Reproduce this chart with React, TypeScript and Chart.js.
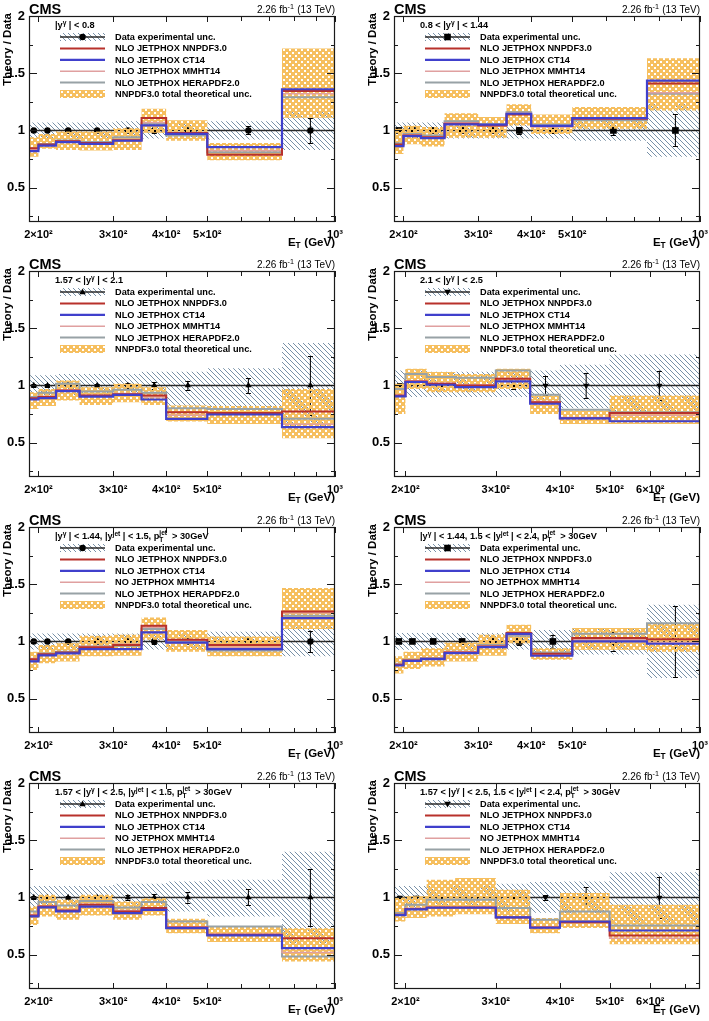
import React, { useEffect, useRef } from 'react';
import { Chart, registerables } from 'chart.js';

Chart.register(...registerables);

// ---------------- axes / binning ----------------
const EDGES_FULL = [190, 200, 220, 250, 300, 350, 400, 500, 750, 1000];
const EDGES_FWD = [190, 200, 220, 250, 300, 350, 400, 500, 750];
const CENTERS_FULL = [195, 210, 235, 275, 325, 375, 450, 625, 875];
const CENTERS_FWD = [195, 210, 235, 275, 325, 375, 450, 625];
const XTICKS_FULL = [200, 300, 400, 500, 1000];
const XLABELS_FULL = ['2×10²', '3×10²', '4×10²', '5×10²', '10³'];
const XMINOR_FULL = [600, 700, 800, 900];
const XTICKS_FWD = [200, 300, 400, 500, 600];
const XLABELS_FWD = ['2×10²', '3×10²', '4×10²', '5×10²', '6×10²'];
const XMINOR_FWD = [700];
const YTICKS = [0.5, 1, 1.5, 2];
const YMINOR = [0.25, 0.75, 1.25, 1.75];
const Y_MIN = 0.2;
const Y_MAX = 2;
const DATA_RATIO = 1;

// ---------------- texts ----------------
const HEADERS = [
  '|y^{γ}| < 0.8',
  '0.8 < |y^{γ}| < 1.44',
  '1.57 < |y^{γ}| < 2.1',
  '2.1 < |y^{γ}| < 2.5',
  '|y^{γ}| < 1.44, |y^{jet}| < 1.5, p_{T}^{jet} > 30GeV',
  '|y^{γ}| < 1.44, 1.5 < |y^{jet}| < 2.4, p_{T}^{jet} > 30GeV',
  '1.57 < |y^{γ}| < 2.5, |y^{jet}| < 1.5, p_{T}^{jet} > 30GeV',
  '1.57 < |y^{γ}| < 2.5, 1.5 < |y^{jet}| < 2.4, p_{T}^{jet} > 30GeV',
];
const LEGEND_INCL = ['Data experimental unc.', 'NLO JETPHOX NNPDF3.0', 'NLO JETPHOX CT14', 'NLO JETPHOX MMHT14', 'NLO JETPHOX HERAPDF2.0', 'NNPDF3.0 total theoretical unc.'];
const LEGEND_JET = ['Data experimental unc.', 'NLO JETPHOX NNPDF3.0', 'NLO JETPHOX CT14', 'NO JETPHOX MMHT14', 'NLO JETPHOX HERAPDF2.0', 'NNPDF3.0 total theoretical unc.'];
const LUMI = '2.26 fb^{-1} (13 TeV)';
const EXP_NAME = 'CMS';
const Y_TITLE = 'Theory / Data';
const X_TITLE = 'E_{T} (GeV)';

// ---------------- panel 1 : |y| < 0.8 ----------------
const P1_NNPDF = [0.845, 0.877, 0.906, 0.89, 0.915, 1.108, 0.977, 0.787, 1.345];
const P1_CT14 = [0.82, 0.868, 0.898, 0.883, 0.91, 1.044, 0.97, 0.854, 1.36];
const P1_MMHT = [0.835, 0.872, 0.903, 0.888, 0.92, 1.07, 0.975, 0.825, 1.32];
const P1_HERA = [0.84, 0.882, 0.912, 0.9, 0.94, 1.06, 0.956, 0.81, 1.29];
const P1_UNC_LO = [0.77, 0.84, 0.83, 0.825, 0.83, 0.98, 0.91, 0.74, 1.11];
const P1_UNC_HI = [0.94, 0.97, 0.99, 0.99, 1.02, 1.19, 1.088, 0.89, 1.716];
const P1_EXP_LO = [0.93, 0.93, 0.93, 0.93, 0.92, 0.93, 0.94, 0.92, 0.83];
const P1_EXP_HI = [1.07, 1.07, 1.07, 1.07, 1.08, 1.07, 1.06, 1.08, 1.17];
const P1_ERR = [0.01, 0.01, 0.01, 0.01, 0.015, 0.02, 0.02, 0.035, 0.11];

// ---------------- panel 2 : 0.8 < |y| < 1.44 ----------------
const P2_NNPDF = [0.877, 0.956, 0.94, 1.058, 1.044, 1.14, 1.038, 1.102, 1.41];
const P2_CT14 = [0.863, 0.95, 0.933, 1.053, 1.05, 1.146, 1.04, 1.108, 1.435];
const P2_MMHT = [0.87, 0.96, 0.945, 1.068, 1.04, 1.15, 1.03, 1.1, 1.33];
const P2_HERA = [0.889, 0.97, 0.955, 1.08, 1.055, 1.16, 1.05, 1.09, 1.32];
const P2_UNC_LO = [0.795, 0.88, 0.86, 0.936, 0.936, 1.044, 0.97, 1.015, 1.175];
const P2_UNC_HI = [1.015, 1.04, 1.03, 1.15, 1.117, 1.228, 1.14, 1.205, 1.63];
const P2_EXP_LO = [0.93, 0.93, 0.93, 0.93, 0.93, 0.93, 0.93, 0.91, 0.77];
const P2_EXP_HI = [1.07, 1.07, 1.07, 1.07, 1.07, 1.07, 1.07, 1.09, 1.23];
const P2_ERR = [0.015, 0.01, 0.01, 0.01, 0.015, 0.03, 0.02, 0.04, 0.14];

// ---------------- panel 3 : 1.57 < |y| < 2.1 ----------------
const P3_NNPDF = [0.889, 0.898, 0.956, 0.912, 0.924, 0.912, 0.766, 0.76, 0.772];
const P3_CT14 = [0.877, 0.889, 0.95, 0.903, 0.918, 0.877, 0.708, 0.746, 0.635];
const P3_MMHT = [0.885, 0.905, 0.96, 0.915, 0.93, 0.9, 0.74, 0.75, 0.66];
const P3_HERA = [0.898, 0.936, 1.015, 0.947, 0.962, 0.936, 0.8, 0.795, 0.708];
const P3_UNC_LO = [0.795, 0.82, 0.868, 0.83, 0.854, 0.83, 0.684, 0.664, 0.538];
const P3_UNC_HI = [0.94, 0.97, 1.044, 0.985, 1.015, 0.985, 0.825, 0.82, 0.97];
const P3_EXP_LO = [0.91, 0.91, 0.9, 0.9, 0.9, 0.88, 0.82, 0.81, 0.63];
const P3_EXP_HI = [1.09, 1.09, 1.1, 1.1, 1.1, 1.12, 1.12, 1.15, 1.37];
const P3_ERR = [0.01, 0.01, 0.01, 0.01, 0.02, 0.03, 0.04, 0.065, 0.255];

// ---------------- panel 4 : 2.1 < |y| < 2.5 ----------------
const P4_NNPDF = [0.912, 1.035, 1.015, 1.0, 1.058, 0.854, 0.713, 0.76];
const P4_CT14 = [0.905, 1.03, 1.006, 0.985, 1.035, 0.84, 0.713, 0.687];
const P4_MMHT = [0.915, 1.04, 1.02, 1.005, 1.06, 0.86, 0.72, 0.74];
const P4_HERA = [0.97, 1.1, 1.073, 1.067, 1.13, 0.918, 0.787, 0.765];
const P4_UNC_LO = [0.75, 0.97, 0.94, 0.94, 0.97, 0.75, 0.664, 0.664];
const P4_UNC_HI = [1.015, 1.146, 1.117, 1.1, 1.146, 0.912, 0.78, 0.912];
const P4_EXP_LO = [0.9, 0.9, 0.9, 0.9, 0.9, 0.88, 0.8, 0.73];
const P4_EXP_HI = [1.13, 1.13, 1.12, 1.12, 1.12, 1.13, 1.18, 1.27];
const P4_ERR = [0.02, 0.015, 0.01, 0.01, 0.03, 0.085, 0.11, 0.13];

// ---------------- panel 5 : |y|<1.44, |yjet|<1.5 ----------------
const P5_NNPDF = [0.845, 0.889, 0.904, 0.95, 0.97, 1.137, 1.015, 0.97, 1.262];
const P5_CT14 = [0.825, 0.878, 0.895, 0.933, 0.933, 1.079, 0.99, 0.933, 1.204];
const P5_MMHT = [0.85, 0.885, 0.9, 0.955, 0.975, 1.125, 1.01, 0.95, 1.25];
const P5_HERA = [0.835, 0.895, 0.91, 0.956, 0.962, 1.108, 1.0, 0.92, 1.224];
const P5_UNC_LO = [0.75, 0.81, 0.825, 0.87, 0.875, 1.015, 0.91, 0.87, 1.108];
const P5_UNC_HI = [0.91, 0.97, 0.985, 1.05, 1.058, 1.21, 1.1, 1.044, 1.466];
const P5_EXP_LO = [0.93, 0.93, 0.93, 0.93, 0.93, 0.93, 0.93, 0.915, 0.87];
const P5_EXP_HI = [1.07, 1.07, 1.07, 1.07, 1.07, 1.07, 1.07, 1.085, 1.13];
const P5_ERR = [0.01, 0.01, 0.01, 0.01, 0.015, 0.02, 0.01, 0.02, 0.095];

// ---------------- panel 6 : |y|<1.44, 1.5<|yjet|<2.4 ----------------
const P6_NNPDF = [0.796, 0.834, 0.848, 0.904, 0.956, 1.073, 0.892, 1.03, 1.02];
const P6_CT14 = [0.79, 0.83, 0.845, 0.898, 0.95, 1.067, 0.875, 1.0, 0.98];
const P6_MMHT = [0.8, 0.838, 0.852, 0.91, 0.96, 1.06, 0.885, 1.015, 0.99];
const P6_HERA = [0.805, 0.84, 0.855, 0.91, 0.97, 1.05, 0.904, 1.067, 1.16];
const P6_UNC_LO = [0.72, 0.76, 0.78, 0.825, 0.875, 0.985, 0.84, 0.927, 0.91];
const P6_UNC_HI = [0.87, 0.91, 0.94, 0.99, 1.058, 1.146, 0.94, 1.117, 1.16];
const P6_EXP_LO = [0.927, 0.927, 0.927, 0.927, 0.927, 0.93, 0.9, 0.885, 0.68];
const P6_EXP_HI = [1.073, 1.073, 1.073, 1.073, 1.073, 1.07, 1.1, 1.115, 1.32];
const P6_ERR = [0.015, 0.01, 0.01, 0.01, 0.02, 0.03, 0.06, 0.08, 0.31];

// ---------------- panel 7 : 1.57<|y|<2.5, |yjet|<1.5 ----------------
const P7_NNPDF = [0.843, 0.92, 0.886, 0.936, 0.878, 0.907, 0.738, 0.673, 0.644];
const P7_CT14 = [0.835, 0.913, 0.878, 0.92, 0.863, 0.892, 0.732, 0.668, 0.557];
const P7_MMHT = [0.85, 0.925, 0.89, 0.94, 0.885, 0.91, 0.745, 0.68, 0.52];
const P7_HERA = [0.878, 0.96, 0.93, 0.97, 0.913, 0.96, 0.79, 0.746, 0.484];
const P7_UNC_LO = [0.76, 0.834, 0.805, 0.843, 0.805, 0.843, 0.688, 0.61, 0.44];
const P7_UNC_HI = [0.92, 1.023, 0.98, 1.023, 0.965, 0.994, 0.813, 0.746, 0.73];
const P7_EXP_LO = [0.9, 0.9, 0.9, 0.9, 0.88, 0.88, 0.877, 0.834, 0.6];
const P7_EXP_HI = [1.1, 1.1, 1.1, 1.1, 1.12, 1.12, 1.14, 1.155, 1.4];
const P7_ERR = [0.01, 0.01, 0.01, 0.01, 0.02, 0.03, 0.045, 0.07, 0.25];

// ---------------- panel 8 : 1.57<|y|<2.5, 1.5<|yjet|<2.4 ----------------
const P8_NNPDF = [0.848, 0.9, 0.913, 0.913, 0.825, 0.738, 0.784, 0.668];
const P8_CT14 = [0.845, 0.895, 0.91, 0.91, 0.825, 0.735, 0.79, 0.711];
const P8_MMHT = [0.85, 0.905, 0.915, 0.915, 0.83, 0.745, 0.78, 0.644];
const P8_HERA = [0.865, 0.936, 0.98, 0.98, 0.907, 0.805, 0.878, 0.755];
const P8_UNC_LO = [0.79, 0.82, 0.834, 0.854, 0.767, 0.688, 0.732, 0.592];
const P8_UNC_HI = [1.0, 1.01, 1.155, 1.17, 1.067, 0.82, 1.038, 0.936];
const P8_EXP_LO = [0.9, 0.9, 0.9, 0.9, 0.88, 0.866, 0.86, 0.78];
const P8_EXP_HI = [1.1, 1.1, 1.1, 1.1, 1.12, 1.134, 1.14, 1.22];
const P8_ERR = [0.015, 0.015, 0.015, 0.015, 0.04, 0.02, 0.09, 0.18];

const MARKERS = ['circle', 'rect', 'triangle', 'invtriangle'];

type Panel = {
  edges: number[]; centers: number[]; xticks: number[]; xlabels: string[]; xminor: number[];
  header: string; legend: string[]; marker: string;
  nnpdf: number[]; ct14: number[]; mmht: number[]; hera: number[];
  uncLo: number[]; uncHi: number[]; expLo: number[]; expHi: number[]; err: number[];
};

const full = { edges: EDGES_FULL, centers: CENTERS_FULL, xticks: XTICKS_FULL, xlabels: XLABELS_FULL, xminor: XMINOR_FULL };
const fwd = { edges: EDGES_FWD, centers: CENTERS_FWD, xticks: XTICKS_FWD, xlabels: XLABELS_FWD, xminor: XMINOR_FWD };

const PANELS: Panel[] = [
  { ...full, header: HEADERS[0], legend: LEGEND_INCL, marker: MARKERS[0], nnpdf: P1_NNPDF, ct14: P1_CT14, mmht: P1_MMHT, hera: P1_HERA, uncLo: P1_UNC_LO, uncHi: P1_UNC_HI, expLo: P1_EXP_LO, expHi: P1_EXP_HI, err: P1_ERR },
  { ...full, header: HEADERS[1], legend: LEGEND_INCL, marker: MARKERS[1], nnpdf: P2_NNPDF, ct14: P2_CT14, mmht: P2_MMHT, hera: P2_HERA, uncLo: P2_UNC_LO, uncHi: P2_UNC_HI, expLo: P2_EXP_LO, expHi: P2_EXP_HI, err: P2_ERR },
  { ...full, header: HEADERS[2], legend: LEGEND_INCL, marker: MARKERS[2], nnpdf: P3_NNPDF, ct14: P3_CT14, mmht: P3_MMHT, hera: P3_HERA, uncLo: P3_UNC_LO, uncHi: P3_UNC_HI, expLo: P3_EXP_LO, expHi: P3_EXP_HI, err: P3_ERR },
  { ...fwd, header: HEADERS[3], legend: LEGEND_INCL, marker: MARKERS[3], nnpdf: P4_NNPDF, ct14: P4_CT14, mmht: P4_MMHT, hera: P4_HERA, uncLo: P4_UNC_LO, uncHi: P4_UNC_HI, expLo: P4_EXP_LO, expHi: P4_EXP_HI, err: P4_ERR },
  { ...full, header: HEADERS[4], legend: LEGEND_JET, marker: MARKERS[0], nnpdf: P5_NNPDF, ct14: P5_CT14, mmht: P5_MMHT, hera: P5_HERA, uncLo: P5_UNC_LO, uncHi: P5_UNC_HI, expLo: P5_EXP_LO, expHi: P5_EXP_HI, err: P5_ERR },
  { ...full, header: HEADERS[5], legend: LEGEND_JET, marker: MARKERS[1], nnpdf: P6_NNPDF, ct14: P6_CT14, mmht: P6_MMHT, hera: P6_HERA, uncLo: P6_UNC_LO, uncHi: P6_UNC_HI, expLo: P6_EXP_LO, expHi: P6_EXP_HI, err: P6_ERR },
  { ...full, header: HEADERS[6], legend: LEGEND_JET, marker: MARKERS[2], nnpdf: P7_NNPDF, ct14: P7_CT14, mmht: P7_MMHT, hera: P7_HERA, uncLo: P7_UNC_LO, uncHi: P7_UNC_HI, expLo: P7_EXP_LO, expHi: P7_EXP_HI, err: P7_ERR },
  { ...fwd, header: HEADERS[7], legend: LEGEND_JET, marker: MARKERS[3], nnpdf: P8_NNPDF, ct14: P8_CT14, mmht: P8_MMHT, hera: P8_HERA, uncLo: P8_UNC_LO, uncHi: P8_UNC_HI, expLo: P8_EXP_LO, expHi: P8_EXP_HI, err: P8_ERR },
];

// ---------------- styles ----------------
const FONT = '"Liberation Sans", Arial, Helvetica, sans-serif';
const font = (size: number, bold = true) => `${bold ? 'bold ' : ''}${size}px ${FONT}`;
const C_NNPDF = '#b8312b';
const C_CT14 = '#4040cc';
const C_MMHT = '#e0a0a0';
const C_HERA = '#98a2a6';
const C_ONE = '#2a2a2a';
const W_NNPDF = 2;
const W_CT14 = 2.2;
const W_MMHT = 1.5;
const W_HERA = 2;

const CANVAS_W = 354;
const CANVAS_H = 256;
const FRAME_L = 29;
const FRAME_R = 335;
const FRAME_T = 16;
const FRAME_B = 222;
const COL_X = [0, 365];
const ROW_Y = [0, 255, 511, 767];
const LEG_FONT = 9.2;
const HEAD_FONT = 9.2;

let patternCache: { hatch: CanvasPattern; orange: CanvasPattern } | null = null;
function getPatterns(ctx: CanvasRenderingContext2D) {
  if (patternCache) return patternCache;
  const h = document.createElement('canvas');
  h.width = 5; h.height = 5;
  const hc = h.getContext('2d')!;
  hc.fillStyle = '#7891a8';
  for (let i = 0; i < 5; i++) hc.fillRect(i, i, 1, 1);
  const o = document.createElement('canvas');
  o.width = 6; o.height = 6;
  const oc = o.getContext('2d')!;
  oc.fillStyle = '#f6bf5f';
  oc.fillRect(0, 0, 6, 6);
  oc.clearRect(1, 1, 2, 2);
  oc.clearRect(4, 4, 2, 2);
  patternCache = {
    hatch: ctx.createPattern(h, 'repeat')!,
    orange: ctx.createPattern(o, 'repeat')!,
  };
  return patternCache;
}

// ---------- rich text (super / subscripts) ----------
type Seg = { t: string; kind: 'n' | 'sup' | 'sub' | 'both'; sup?: string };
function parseRich(s: string): Seg[] {
  const out: Seg[] = [];
  let i = 0;
  let buf = '';
  const readGroup = () => {
    const j = s.indexOf('}', i);
    const g = s.slice(i + 1, j);
    i = j + 1;
    return g;
  };
  while (i < s.length) {
    const c = s[i];
    if ((c === '^' || c === '_') && s[i + 1] === '{') {
      if (buf) { out.push({ t: buf, kind: 'n' }); buf = ''; }
      i += 1;
      const g = readGroup();
      if (c === '_' && s[i] === '^' && s[i + 1] === '{') {
        i += 1;
        const g2 = readGroup();
        out.push({ t: g, kind: 'both', sup: g2 });
      } else {
        out.push({ t: g, kind: c === '^' ? 'sup' : 'sub' });
      }
    } else {
      buf += c;
      i++;
    }
  }
  if (buf) out.push({ t: buf, kind: 'n' });
  return out;
}

function drawRich(ctx: CanvasRenderingContext2D, s: string, x: number, y: number, size: number, bold: boolean, align: 'left' | 'right', gap = 0.5) {
  const segs = parseRich(s);
  const small = size * 0.72;
  const widths = segs.map((g) => {
    if (g.kind === 'n') { ctx.font = font(size, bold); return ctx.measureText(g.t).width; }
    ctx.font = font(small, bold);
    const w1 = ctx.measureText(g.t).width;
    const w2 = g.sup ? ctx.measureText(g.sup).width : 0;
    return Math.max(w1, w2) + gap;
  });
  const total = widths.reduce((a, b) => a + b, 0);
  let cx = align === 'right' ? x - total : x;
  ctx.textAlign = 'left';
  ctx.textBaseline = 'alphabetic';
  segs.forEach((g, k) => {
    if (g.kind === 'n') {
      ctx.font = font(size, bold);
      ctx.fillText(g.t, cx, y);
    } else {
      ctx.font = font(small, bold);
      if (g.kind === 'sup') ctx.fillText(g.t, cx, y - size * 0.38);
      else if (g.kind === 'sub') ctx.fillText(g.t, cx, y + size * 0.25);
      else {
        ctx.fillText(g.t, cx, y + size * 0.3);
        ctx.fillText(g.sup!, cx, y - size * 0.4);
      }
    }
    cx += widths[k];
  });
}

function drawMarker(ctx: CanvasRenderingContext2D, style: string, x: number, y: number) {
  ctx.fillStyle = '#000';
  ctx.beginPath();
  if (style === 'circle') ctx.arc(x, y, 3.2, 0, Math.PI * 2);
  else if (style === 'rect') ctx.rect(x - 3.3, y - 3.3, 6.6, 6.6);
  else if (style === 'triangle') { ctx.moveTo(x, y - 3.5); ctx.lineTo(x + 3.2, y + 2.2); ctx.lineTo(x - 3.2, y + 2.2); ctx.closePath(); }
  else { ctx.moveTo(x, y + 3.5); ctx.lineTo(x + 3.2, y - 2.2); ctx.lineTo(x - 3.2, y - 2.2); ctx.closePath(); }
  ctx.fill();
}

function stepPoints(edges: number[], vals: number[]) {
  const pts = vals.map((v, i) => ({ x: edges[i], y: v }));
  pts.push({ x: edges[edges.length - 1], y: vals[vals.length - 1] });
  return pts;
}

function buildConfig(p: Panel, ctx: CanvasRenderingContext2D): any {
  const pats = getPatterns(ctx);
  const first = p.edges[0];
  const last = p.edges[p.edges.length - 1];
  const errPts: { x: number; y: number | null }[] = [];
  p.centers.forEach((c, i) => {
    errPts.push({ x: c, y: DATA_RATIO - p.err[i] }, { x: c, y: DATA_RATIO + p.err[i] }, { x: c, y: null });
  });
  const markerStyle = p.marker === 'invtriangle' ? 'triangle' : p.marker;
  const markerRot = p.marker === 'invtriangle' ? 180 : 0;
  const markerR = p.marker === 'rect' ? 4.7 : p.marker === 'circle' ? 3.2 : 3.6;
  const band = { stepped: true, borderWidth: 0, borderColor: 'rgba(0,0,0,0)', pointRadius: 0 };
  const line = (vals: number[], color: string, w: number, order: number) => ({
    data: stepPoints(p.edges, vals), stepped: true, borderColor: color, borderWidth: w, pointRadius: 0, fill: false, order,
  });
  const datasets = [
    { ...band, data: stepPoints(p.edges, p.expHi), fill: '+1', backgroundColor: pats.hatch, order: 10 },
    { ...band, data: stepPoints(p.edges, p.expLo), fill: false, order: 10 },
    { data: [{ x: first, y: DATA_RATIO }, { x: last, y: DATA_RATIO }], borderColor: C_ONE, borderWidth: 1.6, pointRadius: 0, fill: false, order: 9 },
    { data: errPts, borderColor: '#000', borderWidth: 1, pointRadius: 0, fill: false, spanGaps: false, order: 8 },
    {
      data: p.centers.map((c) => ({ x: c, y: DATA_RATIO })), showLine: false, pointStyle: markerStyle, pointRotation: markerRot,
      pointRadius: markerR, pointBackgroundColor: '#000', pointBorderColor: '#000', pointBorderWidth: 0, order: 7,
    },
    { ...band, data: stepPoints(p.edges, p.uncHi), fill: '+1', backgroundColor: pats.orange, order: 6 },
    { ...band, data: stepPoints(p.edges, p.uncLo), fill: false, order: 6 },
    line(p.hera, C_HERA, W_HERA, 4),
    line(p.mmht, C_MMHT, W_MMHT, 3),
    line(p.nnpdf, C_NNPDF, W_NNPDF, 2),
    line(p.ct14, C_CT14, W_CT14, 1),
  ];

  const decor = {
    id: 'rootDecor',
    afterDatasetDraw(chart: any, args: any) {
      if (args.index !== 3) return;
      const c = chart.ctx;
      const xs = chart.scales.x;
      const ys = chart.scales.y;
      c.save();
      c.strokeStyle = '#000';
      c.lineWidth = 1;
      p.centers.forEach((cx, i) => {
        const px = xs.getPixelForValue(cx);
        [DATA_RATIO - p.err[i], DATA_RATIO + p.err[i]].forEach((v) => {
          const py = Math.round(ys.getPixelForValue(v)) + 0.5;
          c.beginPath(); c.moveTo(px - 2.5, py); c.lineTo(px + 2.5, py); c.stroke();
        });
      });
      c.restore();
    },
    afterDraw(chart: any) {
      const c: CanvasRenderingContext2D = chart.ctx;
      const a = chart.chartArea;
      const xs = chart.scales.x;
      const ys = chart.scales.y;
      c.save();
      // frame
      c.strokeStyle = '#1a1a1a';
      c.lineWidth = 1.2;
      c.strokeRect(a.left + 0.5, a.top + 0.5, a.right - a.left - 1, a.bottom - a.top - 1);
      // ticks
      c.lineWidth = 1;
      const seg = (x1: number, y1: number, x2: number, y2: number) => { c.beginPath(); c.moveTo(x1, y1); c.lineTo(x2, y2); c.stroke(); };
      const xt = (vals: number[], len: number) => vals.forEach((v) => {
        const px = Math.round(xs.getPixelForValue(v)) + 0.5;
        seg(px, a.bottom, px, a.bottom - len);
        seg(px, a.top, px, a.top + len);
      });
      xt(p.xticks, 6);
      xt(p.xminor, 5);
      const yt = (vals: number[], len: number) => vals.forEach((v) => {
        const py = Math.round(ys.getPixelForValue(v)) + 0.5;
        seg(a.left, py, a.left + len, py);
        seg(a.right, py, a.right - len, py);
      });
      yt(YTICKS, 8);
      yt(YMINOR, 4);
      // labels
      c.fillStyle = '#000';
      c.font = font(14.5);
      c.textAlign = 'left';
      c.textBaseline = 'alphabetic';
      c.fillText(EXP_NAME, a.left, 14);
      drawRich(c, LUMI, a.right, 12.5, 10, false, 'right');
      drawRich(c, X_TITLE, a.right, 245.5, 11.5, true, 'right');
      c.save();
      c.translate(10.5, a.top - 3);
      c.rotate(-Math.PI / 2);
      c.font = font(11.5);
      c.textAlign = 'right';
      c.textBaseline = 'alphabetic';
      c.fillText(Y_TITLE, 0, 0);
      c.restore();
      // legend
      drawRich(c, p.header, 55, 28, HEAD_FONT, true, 'left', 2.5);
      const rowY = (i: number) => 37 + i * 11.4;
      const sx0 = 60;
      const sx1 = 105;
      let ry = rowY(0);
      c.fillStyle = pats.hatch;
      c.fillRect(sx0, ry - 4, sx1 - sx0, 8);
      c.strokeStyle = C_ONE; c.lineWidth = 1.6;
      seg(sx0, ry, sx1, ry);
      drawMarker(c, p.marker, (sx0 + sx1) / 2, ry);
      const lines = [[C_NNPDF, W_NNPDF], [C_CT14, W_CT14], [C_MMHT, W_MMHT], [C_HERA, W_HERA]] as const;
      lines.forEach(([col, w], k) => {
        ry = rowY(k + 1);
        c.strokeStyle = col; c.lineWidth = w;
        seg(sx0, ry, sx1, ry);
      });
      ry = rowY(5);
      c.fillStyle = pats.orange;
      c.fillRect(sx0, ry - 4, sx1 - sx0, 8);
      c.fillStyle = '#000';
      c.font = font(LEG_FONT);
      c.textAlign = 'left';
      c.textBaseline = 'middle';
      p.legend.forEach((t, k) => c.fillText(t, 115, rowY(k) + 0.5));
      c.restore();
    },
  };

  return {
    type: 'line',
    data: { datasets },
    plugins: [decor],
    options: {
      animation: false,
      responsive: false,
      devicePixelRatio: 1,
      events: [],
      layout: { padding: { left: 0, top: FRAME_T, right: CANVAS_W - FRAME_R, bottom: 0 }, autoPadding: false },
      plugins: { legend: { display: false }, tooltip: { enabled: false }, filler: { propagate: false } },
      scales: {
        x: {
          type: 'logarithmic',
          position: 'bottom',
          min: first,
          max: last,
          grid: { display: false, drawTicks: false },
          border: { display: false },
          afterBuildTicks: (s: any) => { s.ticks = p.xticks.map((v) => ({ value: v })); },
          afterFit: (s: any) => { s.height = CANVAS_H - FRAME_B; },
          ticks: {
            autoSkip: false, maxRotation: 0, minRotation: 0, padding: 6, color: '#000',
            font: { family: FONT, size: 11, weight: 'bold' },
            callback: (_v: any, i: number) => p.xlabels[i],
          },
        },
        y: {
          type: 'linear',
          position: 'left',
          min: Y_MIN,
          max: Y_MAX,
          grid: { display: false, drawTicks: false },
          border: { display: false },
          afterBuildTicks: (s: any) => { s.ticks = YTICKS.map((v) => ({ value: v })); },
          afterFit: (s: any) => { s.width = FRAME_L; },
          ticks: {
            autoSkip: false, padding: 4, color: '#000',
            font: { family: FONT, size: 13, weight: 'bold' },
            callback: (v: any) => String(v),
          },
        },
      },
    },
  };
}

function PanelChart({ p, left, top }: { p: Panel; left: number; top: number }) {
  const ref = useRef<HTMLCanvasElement>(null);
  useEffect(() => {
    const canvas = ref.current!;
    const ctx = canvas.getContext('2d')!;
    const chart = new Chart(canvas, buildConfig(p, ctx));
    return () => chart.destroy();
  }, [p]);
  return (
    <canvas
      ref={ref}
      width={CANVAS_W}
      height={CANVAS_H}
      style={{ position: 'absolute', left, top, width: CANVAS_W, height: CANVAS_H, display: 'block' }}
    />
  );
}

export default function App() {
  return (
    <div style={{ position: 'fixed', left: 0, top: 0, width: 709, height: 1021, overflow: 'hidden', background: '#fff' }}>
      {PANELS.map((p, i) => (
        <PanelChart key={i} p={p} left={COL_X[i % 2]} top={ROW_Y[Math.floor(i / 2)]} />
      ))}
    </div>
  );
}
